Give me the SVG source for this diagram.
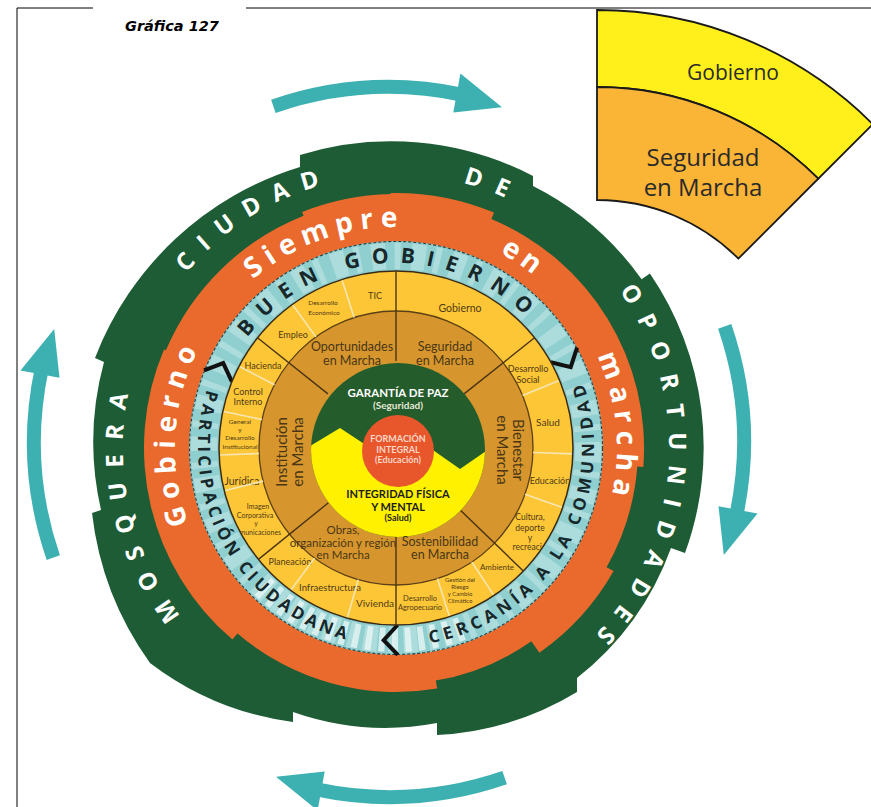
<svg xmlns="http://www.w3.org/2000/svg" width="871" height="807" viewBox="0 0 871 807">
<defs>
<style>
.frame{stroke:#000;stroke-width:1;fill:none}
.title{font-family:"DejaVu Sans",sans-serif;font-weight:bold;font-style:italic;font-size:14.5px;fill:#000}
.ins{stroke:#1a1a1a;stroke-width:1.8}
.inst{font-family:"Open Sans",sans-serif;fill:#2a2a2a;text-anchor:middle}
.gt{font-family:"Open Sans",sans-serif;font-weight:700;font-size:24px;fill:#fff;letter-spacing:13.8px}
.ot{font-family:"Open Sans",sans-serif;font-weight:700;font-size:28px;fill:#fff;letter-spacing:7px}
.bt{font-family:"Open Sans",sans-serif;font-weight:700;fill:#17272a}
.maj{stroke:#4a3416;stroke-width:1.4}
.min{stroke:#f6e6b4;stroke-width:1.6}
.tl{font-family:Lato,"Open Sans",sans-serif;fill:#4a3616;text-anchor:middle}
.yl{font-family:Lato,"Open Sans",sans-serif;fill:#4f3b16;text-anchor:middle}
.ct{font-family:Lato,"Open Sans",sans-serif;font-weight:700;text-anchor:middle}
.arr{fill:#3db1b1}
</style>
<path id="pg" d="M396,721A273,273 0 1 1 396,175A273,273 0 1 1 396,721"/>
<path id="po" d="M396,669A221,221 0 1 1 396,227A221,221 0 1 1 396,669"/>
<path id="pb" d="M396,633A185,185 0 1 1 396,263A185,185 0 1 1 396,633"/>
<path id="pbc" d="M396,250A198,198 0 1 0 396,646A198,198 0 1 0 396,250"/>
<g id="arrowTop">
<path d="M273.4,106.3A355,355 0 0 1 462.8,94.8" fill="none" stroke="#3db1b1" stroke-width="14"/>
<polygon class="arr" points="453.3,112.5 460.4,73.5 502,107.2"/>
</g>
<polyline id="chev" points="396,271 410,256 396,241" fill="none" stroke="#111" stroke-width="4"/>
<line id="majL" class="maj" x1="396" y1="361" x2="396" y2="271"/>
<line id="minL" class="min" x1="396" y1="311" x2="396" y2="272"/>
<clipPath id="yc"><circle cx="396" cy="448" r="176"/></clipPath>
<clipPath id="cc"><circle cx="398" cy="450" r="87"/></clipPath>
</defs>

<rect width="871" height="807" fill="#fff"/>
<g id="frame">
<path class="frame" d="M17,807V8H93M246,8H871"/>
<text class="title" x="125" y="31">Gráfica 127</text>
</g>

<g id="inset">
<path class="ins" fill="#fff01c" d="M597,10A390,390 0 0 1 872.8,124.2L818.3,178.7A313,313 0 0 0 597,87Z"/>
<path class="ins" fill="#fbb536" d="M597,87A313,313 0 0 1 818.3,178.7L738.4,258.6A200,200 0 0 0 597,200Z"/>
<text class="inst" font-size="21" x="733" y="80">Gobierno</text>
<text class="inst" font-size="24" x="703" y="166">Seguridad</text>
<text class="inst" font-size="24" x="703" y="196">en Marcha</text>
</g>

<g id="arrows">
<use href="#arrowTop"/>
<use href="#arrowTop" transform="rotate(90 389 442)"/>
<use href="#arrowTop" transform="rotate(180 389 442)"/>
<use href="#arrowTop" transform="rotate(270 389 442)"/>
</g>

<g id="ring-green">
<path fill="#1d5c35" d="M437,735L437,723A280,280 0 0 1 293,712L293,722A300,300 0 0 1 150,663A320,320 0 0 1 92,513L101,510A305,305 0 0 1 104,362L95,358A320,320 0 0 1 300,167L300,155A308,308 0 0 1 533,176L533,186A298,298 0 0 1 641.6,279.2L649.9,273.5A308,308 0 0 1 685,553L671,548A293,293 0 0 1 577,678L577,692A300,300 0 0 1 437,735Z"/>
<text class="gt"><textPath href="#pg" startOffset="21.7%" text-anchor="middle">MOSQUERA</textPath></text>
<text class="gt"><textPath href="#pg" startOffset="41.2%" text-anchor="middle">CIUDAD</textPath></text>
<text class="gt"><textPath href="#pg" startOffset="55.65%" text-anchor="middle">DE</textPath></text>
<text class="gt"><textPath href="#pg" startOffset="76.5%" text-anchor="middle">OPORTUNIDADES</textPath></text>
</g>

<g id="ring-orange">
<path fill="#e96a2c" d="M232.4,639.6A252,252 0 0 1 164,349.5L165.9,350.3A250,250 0 0 1 303.6,215.7L302.1,212A254,254 0 0 1 390.7,194L390.7,193A255,255 0 0 1 494,212.6L491.3,219A248,248 0 0 1 643.3,467L637.3,466.6A242,242 0 0 1 606.6,567.2L613.6,571.1A250,250 0 0 1 539.4,652.8L531.4,641.3A236,236 0 0 1 435.8,680.6L437.1,688.5A244,244 0 0 1 237.5,633.5Z"/>
<text class="ot"><textPath href="#po" startOffset="26.1%" text-anchor="middle">Gobierno</textPath></text>
<text class="ot"><textPath href="#po" startOffset="44.7%" text-anchor="middle">Siempre</textPath></text>
<text class="ot" style="letter-spacing:5px"><textPath href="#po" startOffset="59.4%" text-anchor="middle">en</textPath></text>
<text class="ot"><textPath href="#po" startOffset="73.5%" text-anchor="middle">marcha</textPath></text>
</g>

<g id="ring-blue">
<circle cx="396" cy="448" r="207" fill="#8fcfd0"/>
<circle cx="396" cy="448" r="192" fill="none" stroke="#c4e7e5" stroke-width="26" stroke-dasharray="14 9 6 11" opacity="0.55"/>
<path d="M461.7,628.4A192,192 0 0 1 260.2,583.8" fill="none" stroke="#eef8f7" stroke-width="24" stroke-dasharray="6 7" opacity="0.75"/>
<circle cx="396" cy="448" r="206.5" fill="none" stroke="#2f3f40" stroke-width="1.1" stroke-dasharray="3 2"/>
<text class="bt" font-size="21" letter-spacing="11.5"><textPath href="#pb" startOffset="49.2%" text-anchor="middle">BUEN GOBIERNO</textPath></text>
<text class="bt" font-size="17" letter-spacing="3.6"><textPath href="#pbc" startOffset="33.2%" text-anchor="middle">PARTICIPACIÓN CIUDADANA</textPath></text>
<text class="bt" font-size="17" letter-spacing="4.6"><textPath href="#pbc" startOffset="66.7%" text-anchor="middle">CERCANÍA A LA COMUNIDAD</textPath></text>
<use href="#chev" transform="rotate(292 396 448)"/>
<use href="#chev" transform="rotate(61 396 448)"/>
<use href="#chev" transform="rotate(179.5 396 448)"/>
</g>

<g id="ring-yellow">
<circle cx="396" cy="448" r="177" fill="#fdc636" stroke="#3b2a12" stroke-width="1.5"/>
</g>

<g id="yellow-labels" clip-path="url(#yc)">
<text class="yl" font-size="9" x="375" y="299">TIC</text>
<text class="yl" font-size="6.5" x="323" y="305">Desarrollo</text>
<text class="yl" font-size="6.5" x="324" y="315">Económico</text>
<text class="yl" font-size="9" x="293" y="338">Empleo</text>
<text class="yl" font-size="9" x="263" y="369">Hacienda</text>
<text class="yl" font-size="9" x="248" y="395">Control</text>
<text class="yl" font-size="9" x="248" y="405">Interno</text>
<text class="yl" font-size="6.5" x="240" y="424">General</text>
<text class="yl" font-size="6.5" x="240" y="432">y</text>
<text class="yl" font-size="6.5" x="240" y="440">Desarrollo</text>
<text class="yl" font-size="6.5" x="240" y="448.5">Institucional</text>
<text class="yl" font-size="10.5" x="242" y="484.5">Jurídica</text>
<text class="yl" font-size="7" x="258" y="509">Imagen</text>
<text class="yl" font-size="7" x="255" y="518">Corporativa</text>
<text class="yl" font-size="7" x="256" y="526">y</text>
<text class="yl" font-size="7" x="256" y="535">Comunicaciones</text>
<text class="yl" font-size="9" x="290" y="565">Planeación</text>
<text class="yl" font-size="9.5" x="330" y="591">Infraestructura</text>
<text class="yl" font-size="10" x="375" y="606.5">Vivienda</text>
<text class="yl" font-size="7.5" x="420" y="600.5">Desarrollo</text>
<text class="yl" font-size="7.5" x="420" y="609.5">Agropecuario</text>
<text class="yl" font-size="6" x="460" y="582">Gestión del</text>
<text class="yl" font-size="6" x="460" y="589">Riesgo</text>
<text class="yl" font-size="6" x="460" y="596">y Cambio</text>
<text class="yl" font-size="6" x="460" y="603">Climático</text>
<text class="yl" font-size="8" x="497" y="570">Ambiente</text>
<text class="yl" font-size="9" x="528" y="372">Desarrollo</text>
<text class="yl" font-size="9" x="528" y="382.5">Social</text>
<text class="yl" font-size="10" x="548" y="425.5">Salud</text>
<text class="yl" font-size="9" x="550" y="484">Educación</text>
<text class="yl" font-size="8.5" x="530" y="520">Cultura,</text>
<text class="yl" font-size="8.5" x="530" y="531">deporte</text>
<text class="yl" font-size="8.5" x="530" y="541">y</text>
<text class="yl" font-size="8.5" x="532" y="550">recreación</text>
<text class="yl" font-size="10.5" x="460" y="311.5">Gobierno</text>
</g>

<g id="ring-tan">
<circle cx="396" cy="448" r="137" fill="#d6962d" stroke="#5b3f17" stroke-width="1.3"/>
</g>

<g id="dividers">
<use href="#minL" transform="rotate(324.2 396 448)"/>
<use href="#minL" transform="rotate(342.2 396 448)"/>
<use href="#minL" transform="rotate(297.5 396 448)"/>
<use href="#minL" transform="rotate(282 396 448)"/>
<use href="#minL" transform="rotate(267.7 396 448)"/>
<use href="#minL" transform="rotate(256 396 448)"/>
<use href="#minL" transform="rotate(216.5 396 448)"/>
<use href="#minL" transform="rotate(196 396 448)"/>
<use href="#minL" transform="rotate(146.4 396 448)"/>
<use href="#minL" transform="rotate(162.4 396 448)"/>
<use href="#minL" transform="rotate(67.5 396 448)"/>
<use href="#minL" transform="rotate(91.9 396 448)"/>
<use href="#minL" transform="rotate(109.7 396 448)"/>
<use href="#majL"/>
<use href="#majL" transform="rotate(51.5 396 448)"/>
<use href="#majL" transform="rotate(134 396 448)"/>
<use href="#majL" transform="rotate(180 396 448)"/>
<use href="#majL" transform="rotate(231 396 448)"/>
<use href="#majL" transform="rotate(308.5 396 448)"/>
</g>

<g id="core">
<circle cx="398" cy="450" r="87" fill="#245c2c"/>
<polygon clip-path="url(#cc)" fill="#fff100" points="300,452 340,428 381,455 420,441 460,469 486,451 500,451 500,545 300,545"/>
<circle cx="398" cy="451" r="36" fill="#e8562b"/>
<text class="ct" fill="#fff" font-size="11.5" x="398" y="397">GARANTÍA DE PAZ</text>
<text class="ct" fill="#e3e8d6" font-size="10" x="398" y="409">(Seguridad)</text>
<text class="ct" fill="#fbd7c8" font-size="9" x="398" y="442">FORMACIÓN</text>
<text class="ct" fill="#fbd7c8" font-size="9" x="398" y="453">INTEGRAL</text>
<text class="ct" fill="#fbd7c8" font-size="9" x="398" y="463">(Educación)</text>
<text class="ct" fill="#1d1d1d" font-size="11" x="398" y="498">INTEGRIDAD FÍSICA</text>
<text class="ct" fill="#1d1d1d" font-size="11" x="398" y="511">Y MENTAL</text>
<text class="ct" fill="#1d1d1d" font-size="9" x="398" y="521">(Salud)</text>
</g>

<g id="tan-labels">
<text class="tl" font-size="12.5" x="352" y="351">Oportunidades</text>
<text class="tl" font-size="12.5" x="352" y="365">en Marcha</text>
<text class="tl" font-size="12.5" x="445" y="351">Seguridad</text>
<text class="tl" font-size="12.5" x="445" y="365">en Marcha</text>
<text class="tl" font-size="15" transform="translate(287 452) rotate(-90)">Institución</text>
<text class="tl" font-size="15" transform="translate(302.5 452) rotate(-90)">en Marcha</text>
<text class="tl" font-size="15" transform="translate(513 450) rotate(90)">Bienestar</text>
<text class="tl" font-size="15" transform="translate(497 450) rotate(90)">en Marcha</text>
<text class="tl" font-size="11.5" x="343" y="534">Obras,</text>
<text class="tl" font-size="11.5" x="343" y="547">organización y región</text>
<text class="tl" font-size="11.5" x="343" y="559">en Marcha</text>
<text class="tl" font-size="12.5" x="440" y="546">Sostenibilidad</text>
<text class="tl" font-size="12.5" x="440" y="559">en Marcha</text>
</g>
</svg>
